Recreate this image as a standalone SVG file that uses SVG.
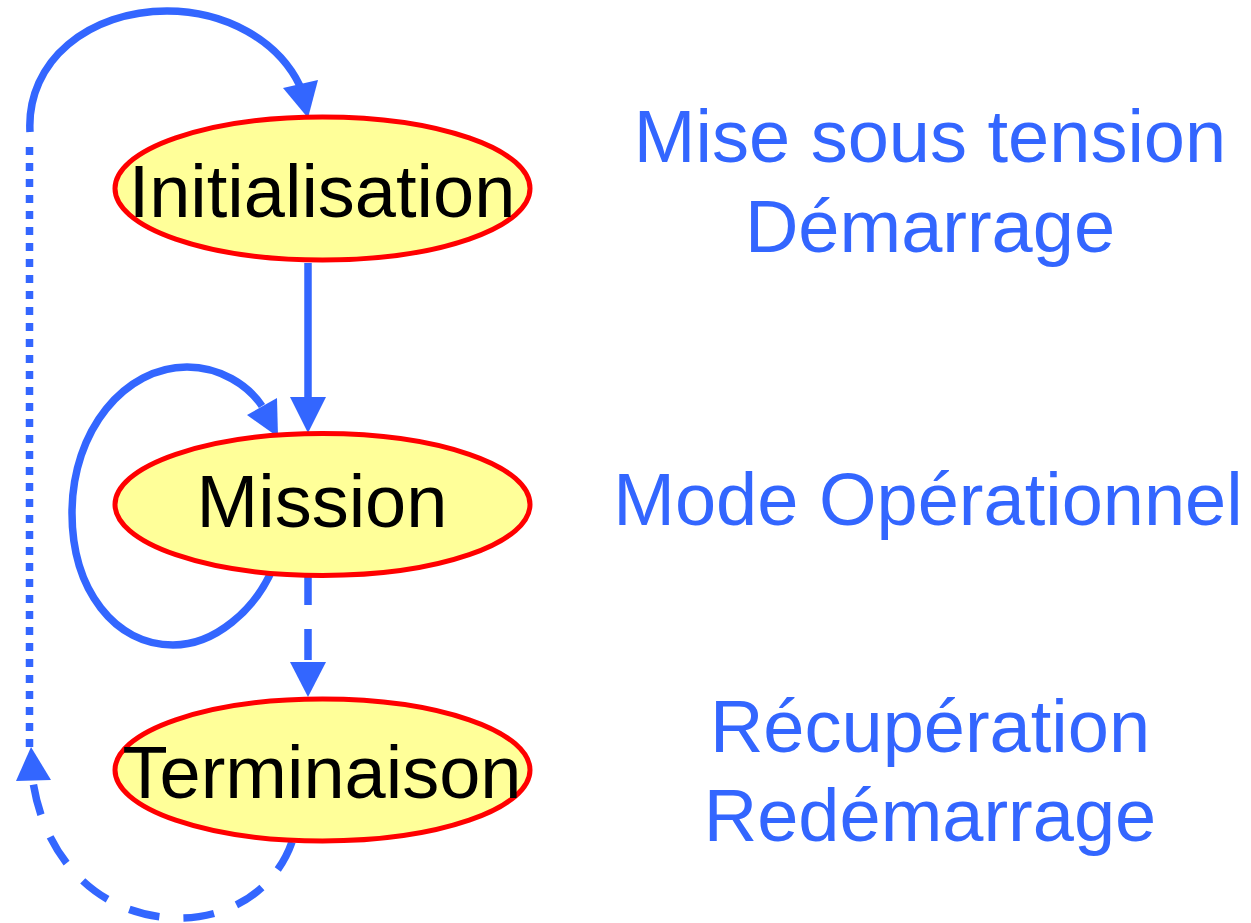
<svg xmlns="http://www.w3.org/2000/svg" width="1251" height="923" viewBox="0 0 1251 923">
<style>
.node ellipse{fill:#FFFF99;stroke:#FF0000;stroke-width:5}
.node text{font-family:"Liberation Sans",Arial,sans-serif;font-size:74px;fill:#000;text-anchor:middle}
.lbl{font-family:"Liberation Sans",Arial,sans-serif;font-size:74px;fill:#3366FF;text-anchor:middle}
.edge{fill:none;stroke:#3366FF;stroke-width:7.5}
.dash{stroke-dasharray:31 24}
.dot{stroke-dasharray:8 8}
.head{fill:#3366FF;stroke:none}
</style>
<rect width="1251" height="923" fill="#fff"/>
<g id="connectors">
<path class="edge" d="M 30 132 C 26 60, 90 11, 167 11 C 225 11, 278 40, 300 86"/>
<polygon class="head" points="283,88 318,80 308,118"/>
<line class="edge dot" x1="29.5" y1="147" x2="29.5" y2="747"/>
<line class="edge" x1="308" y1="263" x2="308" y2="400"/>
<polygon class="head" points="290,397 326,397 308,433"/>
<path class="edge" d="M 273 568 C 255 610, 215 645, 173 645 C 115 645, 72 590, 72 513 C 72 430, 125 367, 187 367 C 220 367, 248 385, 262 406"/>
<polygon class="head" points="247,415 277,398 278,437"/>
<line class="edge dash" x1="308" y1="574" x2="308" y2="665"/>
<polygon class="head" points="290,662 326,662 308,697"/>
<path class="edge dash" d="M 292 842 C 275 890, 230 918, 180 918 C 100 918, 45 860, 33 782"/>
<polygon class="head" points="16,781 51,780 31,747"/>
</g>
<g id="init" class="node">
<ellipse cx="322.5" cy="188.5" rx="207.5" ry="71.5"/>
<text x="322" y="217">Initialisation</text>
</g>
<g id="mission" class="node">
<ellipse cx="322.5" cy="504.5" rx="207.5" ry="71"/>
<text x="322" y="527">Mission</text>
</g>
<g id="term" class="node">
<ellipse cx="322.5" cy="770" rx="207.5" ry="71"/>
<text x="322" y="798">Terminaison</text>
</g>
<g id="labels">
<text class="lbl" x="930" y="162">Mise sous tension</text>
<text class="lbl" x="930" y="252">Démarrage</text>
<text class="lbl" x="928" y="525">Mode Opérationnel</text>
<text class="lbl" x="930" y="752">Récupération</text>
<text class="lbl" x="930" y="841">Redémarrage</text>
</g>
</svg>
